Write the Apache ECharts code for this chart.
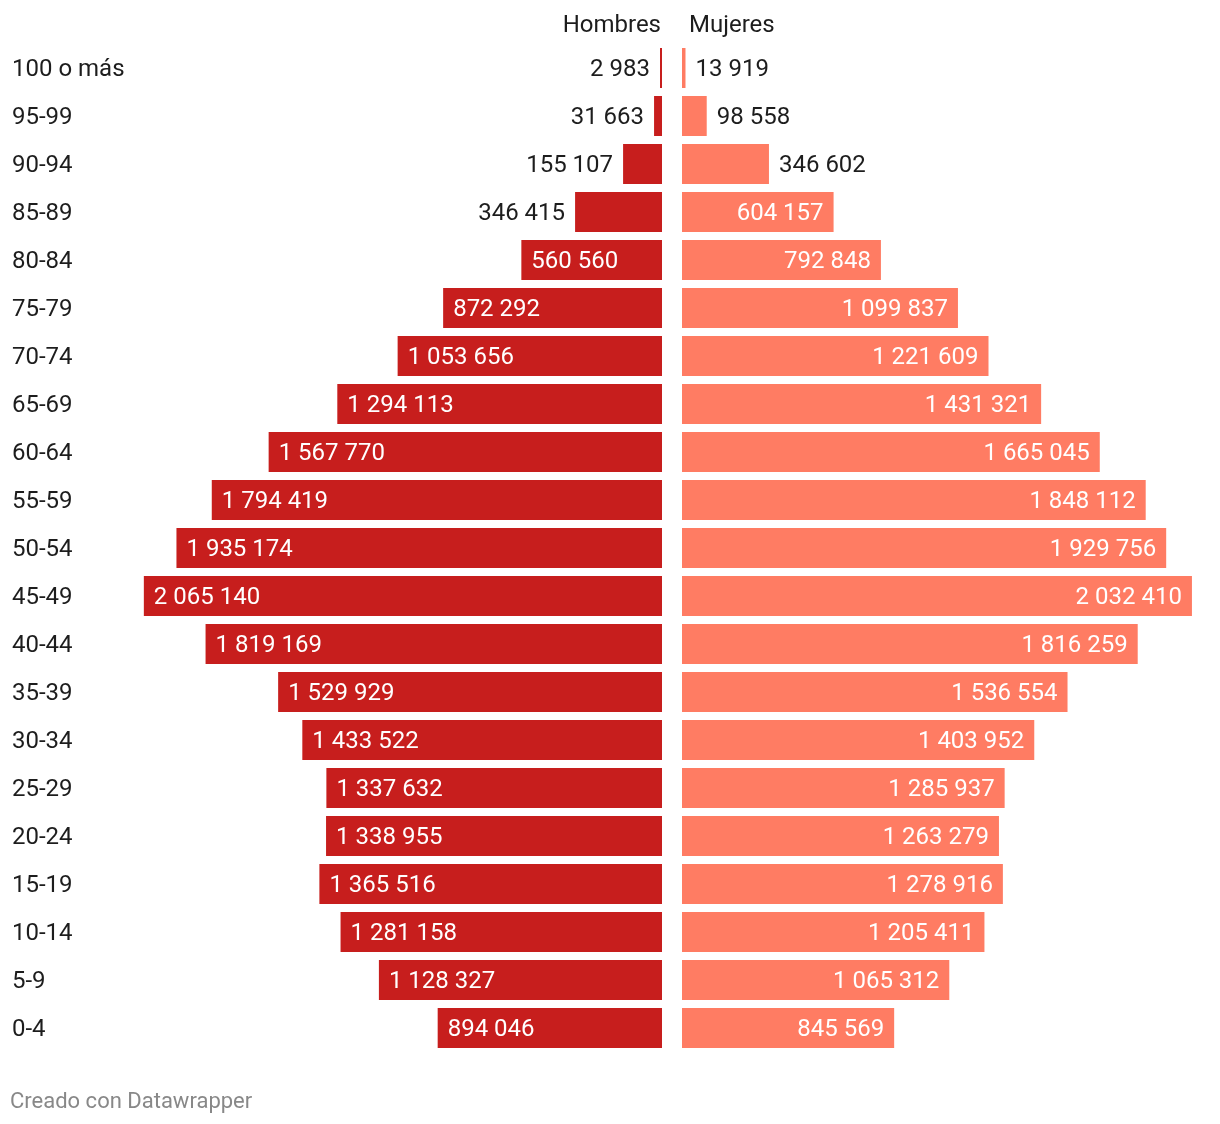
<!DOCTYPE html>
<html>
<head>
<meta charset="utf-8">
<script src="https://cdn.jsdelivr.net/npm/echarts@6/dist/echarts.min.js"></script>
<style>html,body{margin:0;padding:0;background:#fff}#c{width:1220px;height:1124px}</style>
</head>
<body>
<div id="c"></div>
<script>
var categories = ['100 o más','95-99','90-94','85-89','80-84','75-79','70-74','65-69','60-64','55-59','50-54','45-49','40-44','35-39','30-34','25-29','20-24','15-19','10-14','5-9','0-4'];
var hombres = [2983,31663,155107,346415,560560,872292,1053656,1294113,1567770,1794419,1935174,2065140,1819169,1529929,1433522,1337632,1338955,1365516,1281158,1128327,894046];
var mujeres = [13919,98558,346602,604157,792848,1099837,1221609,1431321,1665045,1848112,1929756,2032410,1816259,1536554,1403952,1285937,1263279,1278916,1205411,1065312,845569];
var seriesNames = ['Hombres','Mujeres'];

var FONT = 'Roboto';
var FS = 24;
var AXMAX = 2100000;
var fmt = function (v) { return String(v).replace(/\B(?=(\d{3})+(?!\d))/g, ' '); };
var THRESH = 400000;

function makeData(arr, side) {
  return arr.map(function (v) {
    var inside = v > THRESH;
    var pos = side === 'left' ? (inside ? 'insideLeft' : 'left') : (inside ? 'insideRight' : 'right');
    return { value: v, label: { position: pos, color: inside ? '#ffffff' : '#1d1d1d', distance: 10 } };
  });
}

var chart = echarts.init(document.getElementById('c'), null, { renderer: 'canvas' });
var W = 526.9;
chart.setOption({
  animation: false,
  textStyle: { fontFamily: FONT },
  grid: [
    { left: 662 - W, width: W, top: 44, height: 1008 },
    { left: 682, width: W, top: 44, height: 1008 },
    { left: 662 - W, width: W, top: 46, height: 1008 }
  ],
  xAxis: [
    { gridIndex: 0, type: 'value', min: 0, max: AXMAX, inverse: true, show: false },
    { gridIndex: 1, type: 'value', min: 0, max: AXMAX, show: false },
    { gridIndex: 2, type: 'value', min: 0, max: AXMAX, show: false }
  ],
  yAxis: [
    { gridIndex: 0, type: 'category', data: categories, inverse: true, show: false },
    { gridIndex: 1, type: 'category', data: categories, inverse: true, show: false },
    { gridIndex: 2, type: 'category', data: categories, inverse: true,
      axisLine: { show: false }, axisTick: { show: false }, splitLine: { show: false },
      axisLabel: { align: 'left', margin: 662 - W - 12, fontSize: FS, color: '#1d1d1d', fontFamily: FONT } }
  ],
  graphic: [
    { type: 'text', right: 1220 - 661, top: 14, style: { text: seriesNames[0], font: FS + 'px Roboto', fill: '#1d1d1d', textAlign: 'right' } },
    { type: 'text', left: 689, top: 14, style: { text: seriesNames[1], font: FS + 'px Roboto', fill: '#1d1d1d' } },
    { type: 'text', left: 10, top: 1091, style: { text: 'Creado con Datawrapper', font: '22px Roboto', fill: '#888888' } }
  ],
  series: [
    { name: seriesNames[0], type: 'bar', xAxisIndex: 0, yAxisIndex: 0, barWidth: 40, barMinHeight: 2,
      itemStyle: { color: '#c71e1d' }, data: makeData(hombres, 'left'),
      label: { show: true, fontSize: FS, fontFamily: FONT, offset: [0, 2], formatter: function (p) { return fmt(p.value); } } },
    { name: seriesNames[1], type: 'bar', xAxisIndex: 1, yAxisIndex: 1, barWidth: 40, barMinHeight: 2,
      itemStyle: { color: '#ff7c63' }, data: makeData(mujeres, 'right'),
      label: { show: true, fontSize: FS, fontFamily: FONT, offset: [0, 2], formatter: function (p) { return fmt(p.value); } } }
  ]
});
</script>
</body>
</html>
